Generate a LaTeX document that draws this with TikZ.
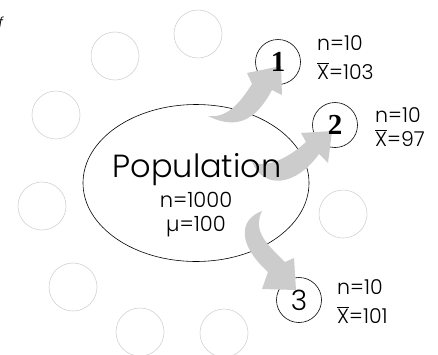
\documentclass[tikz,border=0pt]{standalone}
\usepackage{fontspec}
\setmainfont{Poppins}[UprightFont={* Light}]
\newfontfamily\digitfont{Liberation Serif}
\usetikzlibrary{shapes.geometric}
\definecolor{swoosh}{HTML}{CCCCCC}
\definecolor{faint}{HTML}{D2D2D2}

\newcommand{\thecrowd}{
    \foreach \cx/\cy in {115/56, 198/34, 56/115, 42/206, 73/287, 140/332, 224/333, 343/214}
        \draw[faint, line width=0.6pt] (\cx,\cy) circle (24pt);
}
\tikzset{x=1pt, y=-1pt, every node/.append style={inner sep=0pt},
    sample/.style={draw, circle, minimum size=45pt, line width=0.6pt},
    stat/.style={anchor=west, font=\fontsize{20.5}{22}\selectfont}}

\begin{document}
\begin{tikzpicture}
                \useasboundingbox (0,0) rectangle (438,354);
                \clip (0,0) rectangle (438,354);
                \thecrowd
                \node[draw, ellipse, minimum width=226pt, minimum height=157pt, line width=0.6pt] (pop) at (196,183) {};
                \node[sample] (s1) at (278,62) {};
                \node[sample] (s2) at (335,125) {};
                \node[sample] (s3) at (299,300) {};
                % the three grey swooshes
                \fill[swoosh] (208,116) .. controls (226,118) and (238,106) .. (252,84)
                    -- (247,73) -- (281,66) -- (282,95) -- (272,90)
                    .. controls (258,116) and (240,132) .. cycle;
                \fill[swoosh] (252,162) .. controls (266,168) and (286,160) .. (306,142)
                    -- (301,133) -- (332,131) -- (328,163) -- (319,154)
                    .. controls (296,186) and (264,190) .. cycle;
                \fill[swoosh] (262,211) .. controls (238,220) and (238,245) .. (268,272)
                    -- (262,289) -- (296,290) -- (294,258) -- (285,262)
                    .. controls (268,245) and (252,232) .. cycle;
                \node[font=\fontsize{32}{36}\selectfont] (name) at (197,170) {Population};
                \node[font=\fontsize{21}{22}\selectfont] (size) at (196,200) {n=1000};
                \node[font=\fontsize{21}{22}\selectfont] (mean) at (196,227) {µ=100};
                \node[font=\digitfont\bfseries\fontsize{29}{30}\selectfont] at (s1) {1};
                \node[font=\digitfont\bfseries\fontsize{29}{30}\selectfont] at (s2) {2};
                \node[font=\fontsize{28}{30}\selectfont] at (s3) {3};
                \node[stat] (n1) at (317,43) {n=10};
                \node[stat] (x1) at (317,71) {$\overline{\mbox{X}}$=103};
                \node[stat] (n2) at (375,115) {n=10};
                \node[stat] (x2) at (375,138) {$\overline{\mbox{X}}$=97};
                \node[stat] (n3) at (337,287) {n=10};
                \node[stat] (x3) at (337,315) {$\overline{\mbox{X}}$=101};
                \node[font=\itshape\fontsize{14}{14}\selectfont] (cut) at (1,22) {f};
            \end{tikzpicture}
\end{document}
